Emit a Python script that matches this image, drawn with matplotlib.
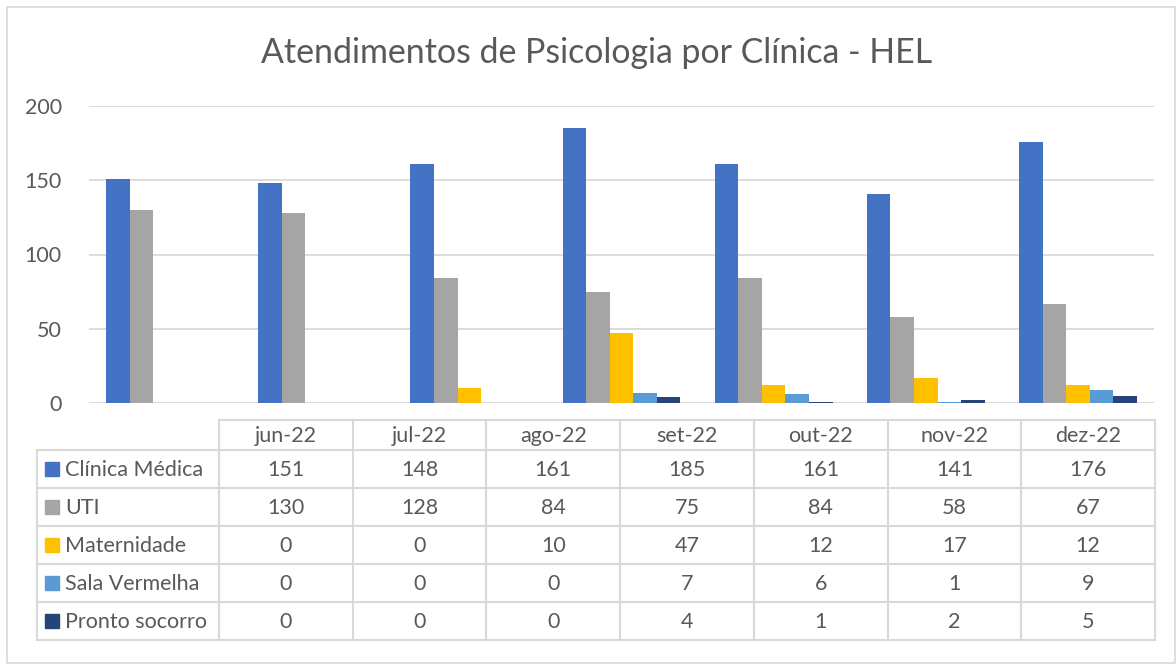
import numpy as np
import matplotlib.pyplot as plt
from matplotlib.patches import Rectangle

plt.rcParams['font.family'] = ['Lato', 'DejaVu Sans']

meses = ['jun-22', 'jul-22', 'ago-22', 'set-22', 'out-22', 'nov-22', 'dez-22']
series = ['Clínica Médica', 'UTI', 'Maternidade', 'Sala Vermelha', 'Pronto socorro']
clinica_medica = [151, 148, 161, 185, 161, 141, 176]
uti = [130, 128, 84, 75, 84, 58, 67]
maternidade = [0, 0, 10, 47, 12, 17, 12]
sala_vermelha = [0, 0, 0, 7, 6, 1, 9]
pronto_socorro = [0, 0, 0, 4, 1, 2, 5]
valores = [clinica_medica, uti, maternidade, sala_vermelha, pronto_socorro]
cores = ['#4472C4', '#A5A5A5', '#FFC000', '#5B9BD5', '#264478']

W, H = 1176, 664
txt = '#595959'
grade = '#D9D9D9'
fs = 15.5

fig = plt.figure(figsize=(W / 100, H / 100), dpi=100)

# overlay in pixel coords for frame, title and data table
tab = fig.add_axes([0, 0, 1, 1])
tab.set_xlim(0, W)
tab.set_ylim(H, 0)
tab.axis('off')
tab.add_patch(Rectangle((7, 7), W - 8, H - 8, fill=False, ec=grade, lw=1.2))
tab.text(597, 53, 'Atendimentos de Psicologia por Clínica - HEL', ha='center', va='center',
         fontsize=24.4, color=txt)

# bar chart
x0, x1, y0, y1 = 89, 1154, 403, 106
ax = fig.add_axes([x0 / W, 1 - y0 / H, (x1 - x0) / W, (y0 - y1) / H], zorder=2)
ax.patch.set_alpha(0)
x = np.arange(len(meses))
bw = 0.155
for k, (nome, vals, c) in enumerate(zip(series, valores, cores)):
    ax.bar(x + (k - 2) * bw, vals, width=bw, color=c, zorder=3)
ax.set_xlim(-0.5, len(meses) - 0.5)
ax.set_ylim(0, 200)
ax.set_yticks([0, 50, 100, 150, 200])
ax.yaxis.grid(True, color=grade, lw=1.3)
ax.set_axisbelow(True)
ax.set_xticks([])
for s in ax.spines.values():
    s.set_visible(False)
ax.tick_params(axis='y', length=0, pad=19.5, labelsize=fs, labelcolor=txt)

# data table
cl0, cl1, cr = 37, 219, 1155
colw = (cr - cl1) / len(meses)
rows = [420, 450, 488, 526, 564, 602, 640]
lk = dict(color=grade, lw=1.5)
tab.plot([cl1, cr], [rows[0], rows[0]], **lk)
for yy in rows[1:]:
    tab.plot([cl0, cr], [yy, yy], **lk)
tab.plot([cl0, cl0], [rows[1], rows[-1]], **lk)
for j in range(len(meses) + 1):
    xx = cl1 + j * colw
    tab.plot([xx, xx], [rows[0], rows[-1]], **lk)
for j, m in enumerate(meses):
    tab.text(cl1 + (j + 0.5) * colw, (rows[0] + rows[1]) / 2 + 1, m, ha='center', va='center',
             fontsize=fs, color=txt)
for i, (nome, vals, c) in enumerate(zip(series, valores, cores)):
    yc = (rows[i + 1] + rows[i + 2]) / 2
    tab.add_patch(Rectangle((45, yc - 7), 14, 14, color=c))
    tab.text(65, yc + 1, nome, ha='left', va='center', fontsize=fs, color=txt)
    for j, v in enumerate(vals):
        tab.text(cl1 + (j + 0.5) * colw, yc + 1, str(v), ha='center', va='center',
                 fontsize=fs, color=txt)

fig.savefig('out.png', dpi=100)
